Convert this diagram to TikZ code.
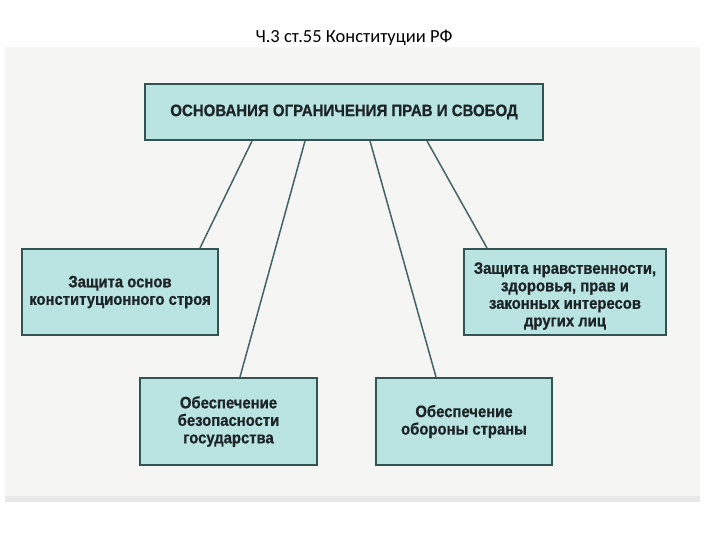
\documentclass[tikz,border=0pt]{standalone}
\usepackage{fontspec}
\setmainfont{Liberation Sans}
\newfontfamily\titlefont{Carlito}
\newfontfamily\narrowbold[FakeStretch=0.9,FakeBold=0.8]{Liberation Sans Bold}
\newfontfamily\topbold[FakeStretch=0.91,FakeBold=0.8]{Liberation Sans Bold}
\usetikzlibrary{calc}
\definecolor{boxfill}{RGB}{186,228,226}
\definecolor{boxline}{RGB}{52,84,84}
\definecolor{conline}{RGB}{70,100,100}
\definecolor{bgpaper}{RGB}{245,245,244}
\definecolor{txt}{RGB}{28,36,38}
\tikzset{
  boxtext/.style={align=center, text=txt, inner sep=2pt,
    font=\narrowbold\fontsize{16.5}{17.5}\selectfont},
  box/.style={draw=boxline, line width=2pt, fill=boxfill, boxtext},
  conn/.style={draw=conline, line width=1.5pt}
}
\begin{document}
\begin{tikzpicture}[x=1pt,y=-1pt]
\useasboundingbox (0,0) rectangle (720,540);
\fill[bgpaper] (5,47) rectangle (700,502);
\fill[gray!18] (5,496) rectangle (700,502);
\node[font=\titlefont\fontsize{18.5}{20}\selectfont, text=black] (title) at (354,38) {Ч.3 ст.55 Конституции РФ};
\node[box, minimum width=398pt, minimum height=56pt, font=\topbold\fontsize{16.5}{18}\selectfont] (top) at (344,112) {ОСНОВАНИЯ ОГРАНИЧЕНИЯ ПРАВ И СВОБОД};
\node[box, minimum width=196pt, minimum height=86pt] (left) at (120,292) {Защита основ\\конституционного строя};
\node[box, minimum width=202pt, minimum height=86pt] (right) at (565,292) {};
\node[boxtext] (righttext) at ([yshift=-4pt]right.center) {Защита нравственности,\\здоровья, прав и\\законных интересов\\других лиц};
\node[box, minimum width=177pt, minimum height=87pt] (bl) at (228.5,421.5) {Обеспечение\\безопасности\\государства};
\node[box, minimum width=176pt, minimum height=87pt] (br) at (464,421.5) {Обеспечение\\обороны страны};
\draw[conn] ([xshift=108pt]top.south west) -- ([xshift=179pt]left.north west);
\draw[conn] ([xshift=161pt]top.south west) -- ([xshift=101pt]bl.north west);
\draw[conn] ([xshift=226pt]top.south west) -- ([xshift=61pt]br.north west);
\draw[conn] ([xshift=283pt]top.south west) -- ([xshift=24pt]right.north west);
\end{tikzpicture}
\end{document}
